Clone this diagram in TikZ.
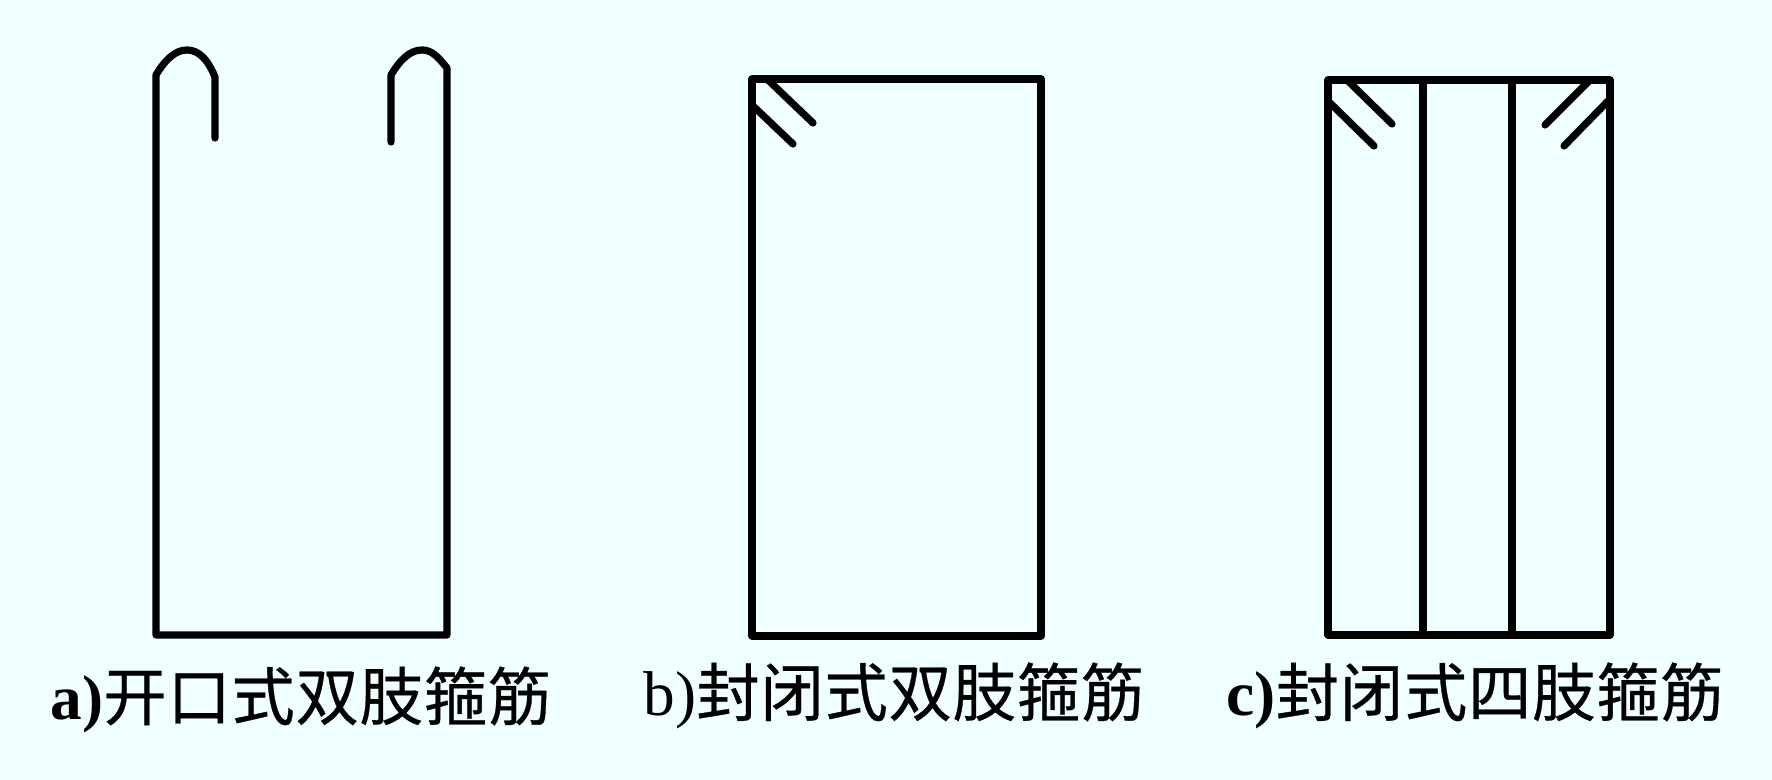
\documentclass[tikz,border=0pt]{standalone}
\usepackage{fontspec}
\setmainfont{Liberation Serif}
\newfontfamily\cjk[FakeBold=0.5, LetterSpace=1.3]{Noto Sans CJK SC}
\definecolor{paper}{HTML}{F0FFFF}

\begin{document}
\begin{tikzpicture}[
		x=0.1mm, y=-0.1mm,
		bar/.style={line width=0.72mm, line cap=round, line join=round},
		caption/.style={anchor=base west, inner sep=0pt, font=\fontsize{18pt}{20pt}\selectfont}
	]

		% Background
		\fill[paper] (0,0) rectangle (1772,780);
		\useasboundingbox (0,0) rectangle (1772,780);

		% Open stirrup
		\draw[bar] (215,138) -- (215,77) .. controls (208,60) and (199,50) .. (187,50)
			.. controls (175,50) and (165,60) .. (156,75) -- (156,635) -- (447,635) -- (447,68)
			.. controls (438,57) and (432,50) .. (422,50) .. controls (410,50) and (400,60) .. (391,75) -- (391,142);

		% Closed stirrup, two legs
		\draw[bar] (752,79) rectangle (1041,636);
		\draw[bar] (768,80) -- (813,123);
		\draw[bar] (753,106) -- (793,144);

		% Closed stirrup, four legs
		\draw[bar] (1328,80) rectangle (1610,635);
		\draw[bar] (1423,80) -- (1423,635);
		\draw[bar] (1512,80) -- (1512,635);
		\draw[bar] (1347,80) -- (1392,124);
		\draw[bar] (1328,101) -- (1374,146);
		\draw[bar] (1590,80) -- (1545,125);
		\draw[bar] (1608,101) -- (1564,146);

		% Captions
		\node[caption] (capa) at (50,720) {\textbf{a)}{\cjk 开口式双肢箍筋}};
		\node[caption] (capb) at (643,716) {b){\cjk 封闭式双肢箍筋}};
		\node[caption] (capc) at (1226,716) {\textbf{c)}{\cjk 封闭式四肢箍筋}};

	\end{tikzpicture}
\end{document}
